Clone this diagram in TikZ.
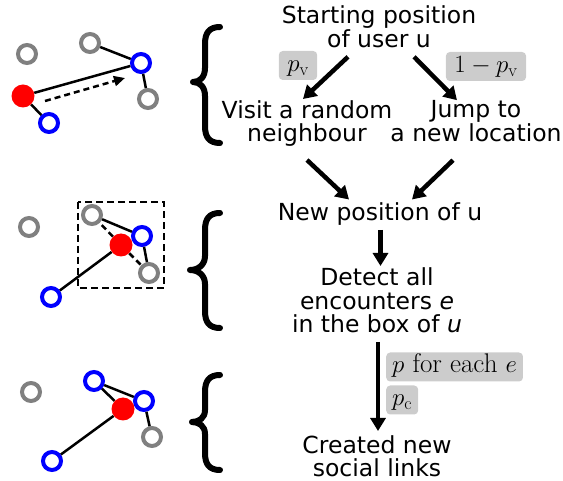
\documentclass[tikz,border=0pt]{standalone}
\usepackage{fontspec}
\newfontfamily\dv{DejaVu Sans}
\usetikzlibrary{arrows.meta,calc}
\definecolor{ggray}{RGB}{128,128,128}
\definecolor{lbl}{RGB}{204,204,204}
\begin{document}
\begin{tikzpicture}[x=1pt,y=-1pt,
 txt/.style={font=\fontsize{23.5}{23.5}\selectfont\dv, align=center, inner sep=0pt},
 lab/.style={fill=lbl, rounded corners=4pt, font=\fontsize{25.5}{25.5}\selectfont, inner xsep=8.5pt, inner ysep=3pt, text height=17.5pt, text depth=5.5pt},
 flow/.style={line width=4.5pt, -{Triangle[length=13pt,width=15pt]}},
 gn/.style={circle, draw=ggray, line width=4pt, minimum size=18pt, inner sep=0pt, fill=white},
 bn/.style={gn, draw=blue},
 rn/.style={circle, fill=red, minimum size=23pt, inner sep=0pt},
 edge/.style={line width=2.5pt},
 dedge/.style={line width=2.5pt, dash pattern=on 6pt off 4pt},
 brace/.style={line width=6pt, line cap=round, line join=round}
]
\useasboundingbox (0,0) rectangle (563,481);

% ---------- text flow ----------
\node[txt] (start) at (379,26.8) {Starting position\\of user u};
\node[txt] (visit) at (307,123.5) {Visit a random\\neighbour};
\node[txt] (jump) at (476,121.2) {Jump to\\a new location};
\node[txt] (newpos) at (380,214.5) {New position of u};
\node[txt] (detect) at (377,300.5) {Detect all\\encounters \textit{e}\\in the box of \textit{u}};
\node[txt] (created) at (377,456) {Created new\\social links};

\draw[flow] ($(start.center)+(-31,30)$) -- ($(visit.center)+(-4,-24.5)$);
\draw[flow] ($(start.center)+(35,30)$) -- ($(jump.center)+(-19,-21)$);
\draw[flow] ($(visit.center)+(0,36.5)$) -- ($(newpos.center)+(-31,-15)$);
\draw[flow] ($(jump.center)+(-23,39)$) -- ($(newpos.center)+(32,-15)$);
\draw[flow] ($(newpos.center)+(0.5,15.5)$) -- ($(newpos.center)+(0.5,51.5)$);
\draw[flow] ($(detect.center)+(1,41.5)$) -- ($(created.center)+(1,-25)$);

\node[lab] (lpv) at (298,65.5) {$p_{\mathrm{v}}$};
\node[lab] (l1pv) at (486,66.5) {$1-p_{\mathrm{v}}$};
\node[lab, anchor=west, inner xsep=6pt, font=\fontsize{27}{27}\selectfont] (lpe) at (386,367) {$p$ for each $e$};
\node[lab, anchor=west, inner xsep=6pt] (lpc) at (386,400) {$p_{\mathrm{c}}$};

% ---------- braces ----------
\draw[brace] (220,27) .. controls (209,27) and (205,33) .. (205,44) -- (205,68)
  .. controls (205,77) and (200,82) .. (193,82) .. controls (200,82) and (205,87) .. (205,96)
  -- (205,126) .. controls (205,137) and (209,143) .. (220,143);
\draw[brace] (220,213) .. controls (209,213) and (205,219) .. (205,230) -- (205,256)
  .. controls (205,265) and (198,270) .. (190,270) .. controls (198,270) and (205,275) .. (205,284)
  -- (205,311) .. controls (205,322) and (209,328) .. (220,328);
\draw[brace] (220,375) .. controls (209,375) and (205,381) .. (205,392) -- (205,410)
  .. controls (205,418) and (199,422) .. (192,422) .. controls (199,422) and (205,426) .. (205,434)
  -- (205,453) .. controls (205,464) and (209,470) .. (220,470);

% ---------- panel 1 ----------
\node[gn] (g11) at (27,54) {};
\node[gn] (g12) at (90,43) {};
\node[bn] (b11) at (141,63) {};
\node[gn] (g13) at (148,99) {};
\node[rn] (r1) at (23,96) {};
\node[bn] (b12) at (49,123) {};
\draw[edge] (g12) -- (b11);
\draw[edge] (b11) -- (g13);
\draw[edge] (r1) -- (b11);
\draw[edge] (r1) -- (b12);
\coordinate (d1s) at (45,101);
\coordinate (d1e) at (125,78);
\draw[dedge, -{Triangle[length=11pt,width=10pt]}] (d1s) -- (d1e);

% ---------- panel 2 ----------
\draw[line width=2.5pt, dash pattern=on 7pt off 4pt] (78,202) rectangle (164,288);
\node[gn] (g21) at (29,227) {};
\node[gn] (g22) at (92,215) {};
\node[bn] (b21) at (142,236) {};
\node[gn] (g23) at (149,273) {};
\node[bn] (b22) at (51,297) {};
\node[rn] (r2) at (121,245) {};
\draw[edge] (g22) -- (b21);
\draw[edge] (b21) -- (g23);
\draw[edge] (r2) -- (b22);
\draw[dedge] (r2) -- (g22);
\draw[dedge] (r2) -- (g23);

% ---------- panel 3 ----------
\node[gn] (g31) at (31,392) {};
\node[bn] (b31) at (94,381) {};
\node[bn] (b32) at (144,401) {};
\node[gn] (g32) at (152,437) {};
\node[bn] (b33) at (52,461) {};
\node[rn] (r3) at (123,409) {};
\draw[edge] (b31) -- (b32);
\draw[edge] (b31) -- (r3);
\draw[edge] (b32) -- (g32);
\draw[edge] (r3) -- (b33);
\end{tikzpicture}
\end{document}
